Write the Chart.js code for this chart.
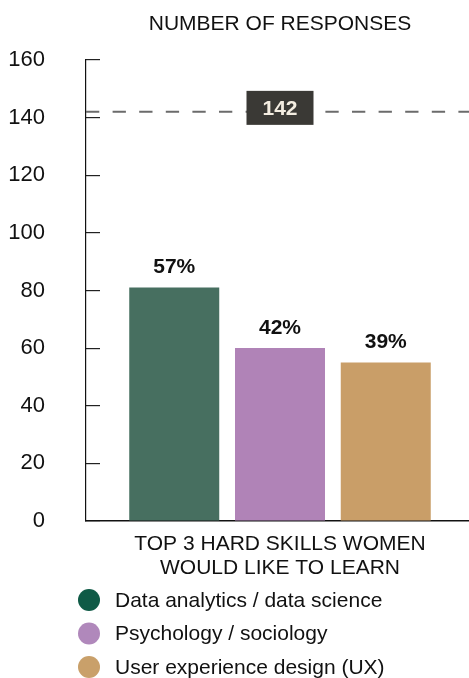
<!DOCTYPE html>
<html><head><meta charset="utf-8">
<script src="https://cdn.jsdelivr.net/npm/chart.js@4"></script>
<style>html,body{margin:0;padding:0;background:#fff;overflow:hidden;width:469px;height:678px}#wrap{width:474px;height:678px;position:relative}</style>
</head><body><div id="wrap"><canvas id="c"></canvas></div>
<script>
const categories = [['TOP 3 HARD SKILLS WOMEN', 'WOULD LIKE TO LEARN']];
const seriesNames = ['Data analytics / data science', 'Psychology / sociology', 'User experience design (UX)'];
const seriesValues = [81, 60, 55];
const percentLabels = ['57%', '42%', '39%'];
const barColors = ['#476f60', '#b083b7', '#c99e68'];
const legendColors = ['#0f5a46', '#b088bb', '#c9a06a'];
const yTicks = [0, 20, 40, 60, 80, 100, 120, 140, 160];
const totalResponses = 142;
const titleText = 'NUMBER OF RESPONSES';

const FONT = '"Liberation Sans", Arial, Helvetica, sans-serif';
Chart.defaults.font.family = FONT;
Chart.defaults.color = '#111';

const barLabelPlugin = {
  id: 'barLabels',
  afterDatasetsDraw(chart) {
    const ctx = chart.ctx;
    ctx.save();
    ctx.font = 'bold 21px ' + FONT;
    ctx.fillStyle = '#111';
    ctx.textAlign = 'center';
    ctx.textBaseline = 'middle';
    chart.data.datasets.forEach((ds, i) => {
      const el = chart.getDatasetMeta(i).data[0];
      ctx.fillText(percentLabels[i], el.x, el.y - 20);
    });
    ctx.restore();
  }
};

const refLinePlugin = {
  id: 'refLine',
  afterDatasetsDraw(chart) {
    const {ctx, chartArea, scales} = chart;
    const y = scales.y.getPixelForValue(totalResponses);
    ctx.save();
    ctx.strokeStyle = '#6b6b6b';
    ctx.lineWidth = 2;
    ctx.setLineDash([13.3, 13.3]);
    ctx.beginPath();
    ctx.moveTo(chartArea.left, y);
    ctx.lineTo(chartArea.right, y);
    ctx.stroke();
    ctx.setLineDash([]);
    const cx = (chartArea.left + chartArea.right) / 2;
    const w = 67, h = 34;
    ctx.fillStyle = '#3a3935';
    ctx.fillRect(cx - w / 2, y - h / 2 - 4, w, h);
    ctx.fillStyle = '#f3ede1';
    ctx.font = 'bold 21px ' + FONT;
    ctx.textAlign = 'center';
    ctx.textBaseline = 'middle';
    ctx.fillText(String(totalResponses), cx, y - 3);
    ctx.restore();
  }
};

const legendPlugin = {
  id: 'customLegend',
  afterDraw(chart) {
    const ctx = chart.ctx;
    ctx.save();
    ctx.font = '21px ' + FONT;
    ctx.textBaseline = 'middle';
    ctx.textAlign = 'left';
    const y0 = chart.height - 78;
    chart.data.datasets.forEach((ds, i) => {
      const y = y0 + i * 33.5;
      ctx.fillStyle = legendColors[i];
      ctx.beginPath();
      ctx.arc(89, y, 11, 0, Math.PI * 2);
      ctx.fill();
      ctx.fillStyle = '#111';
      ctx.fillText(ds.label, 115, y + 1);
    });
    ctx.restore();
  }
};

new Chart(document.getElementById('c'), {
  type: 'bar',
  data: {
    labels: categories,
    datasets: seriesNames.map((name, i) => ({
      label: name,
      data: [seriesValues[i]],
      backgroundColor: barColors[i],
      borderWidth: 0
    }))
  },
  options: {
    responsive: true,
    maintainAspectRatio: false,
    animation: false,
    categoryPercentage: 0.8177,
    barPercentage: 0.851,
    layout: {padding: {top: 0, right: 0, bottom: 87, left: 0}},
    plugins: {
      legend: {display: false},
      tooltip: {enabled: false},
      title: {
        display: true,
        text: titleText,
        fullSize: false,
        font: {size: 21, weight: 'normal'},
        color: '#111',
        padding: {top: 11.4, bottom: 23.4}
      }
    },
    scales: {
      x: {
        grid: {display: false, drawTicks: false},
        border: {display: true, color: '#111', width: 1.5},
        ticks: {
          font: {size: 21, lineHeight: 1.143},
          color: '#111',
          padding: 11,
          maxRotation: 0
        }
      },
      y: {
        min: yTicks[0],
        max: yTicks[yTicks.length - 1],
        afterFit(scale) { scale.width = 86; scale.paddingTop = 0; scale.paddingBottom = 0; },
        afterBuildTicks(scale) { scale.ticks = yTicks.map(v => ({value: v})); },
        grid: {drawOnChartArea: false, drawTicks: true, tickLength: -14, color: '#222', lineWidth: 1.2},
        border: {display: true, color: '#111', width: 1.2},
        ticks: {
          font: {size: 22},
          color: '#111',
          padding: 55
        }
      }
    }
  },
  plugins: [refLinePlugin, barLabelPlugin, legendPlugin]
});
</script>
</body></html>
